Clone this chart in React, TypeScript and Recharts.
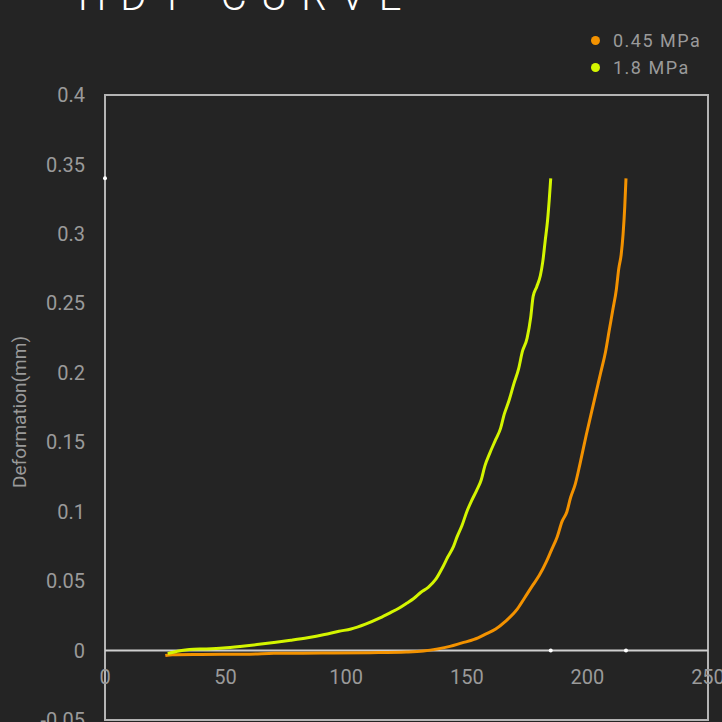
import React from "react";
import {
  LineChart,
  Line,
  XAxis,
  YAxis,
  ReferenceLine,
  ReferenceArea,
  ReferenceDot,
} from "recharts";

// 0.45 MPa curve: [temperature, deformation]
const lowLoadX = [25, 28, 40, 60, 70, 90, 110, 125, 132, 138, 143, 148, 153, 158, 162, 166, 171, 174, 177.5, 180, 183, 185, 187.5, 189.5, 191.5, 193, 195, 197, 199.5, 201.5, 203.5, 205.5, 207.5, 209, 210.5, 212, 213, 214, 214.8, 215.5, 216];
const lowLoadY = [-0.0036, -0.003, -0.0028, -0.0026, -0.002, -0.0018, -0.0015, -0.001, -0.0003, 0.0012, 0.003, 0.0055, 0.008, 0.012, 0.0155, 0.021, 0.03, 0.038, 0.0475, 0.054, 0.064, 0.072, 0.082, 0.093, 0.1, 0.11, 0.12, 0.135, 0.155, 0.17, 0.185, 0.2, 0.215, 0.23, 0.245, 0.26, 0.275, 0.285, 0.3, 0.32, 0.34];

// 1.8 MPa curve
const highLoadX = [26, 30, 35, 42, 49, 56, 63, 70, 77, 84, 91, 97, 102, 108, 114, 118, 122, 125, 128, 131, 134, 137, 140, 142, 144.5, 146, 148, 150, 152, 154, 156, 157.5, 159.5, 162, 164, 165.5, 167.5, 169.5, 171.5, 173, 175, 176.5, 177.5, 179, 180.5, 181.5, 182.5, 183.5, 184.2, 184.8];
const highLoadY = [-0.0022, -0.0005, 0.0007, 0.0012, 0.0019, 0.003, 0.0043, 0.0058, 0.0074, 0.0092, 0.0115, 0.0139, 0.0155, 0.019, 0.0235, 0.027, 0.0307, 0.034, 0.0375, 0.042, 0.0455, 0.051, 0.06, 0.067, 0.075, 0.082, 0.09, 0.1, 0.108, 0.115, 0.123, 0.133, 0.142, 0.152, 0.16, 0.17, 0.18, 0.192, 0.203, 0.215, 0.225, 0.24, 0.255, 0.262, 0.27, 0.28, 0.295, 0.31, 0.325, 0.34];

const xTicks = [0, 50, 100, 150, 200, 250];
const yTicks = [-0.05, 0, 0.05, 0.1, 0.15, 0.2, 0.25, 0.3, 0.35, 0.4];
const yTickLabels = ["-0.05", "0", "0.05", "0.1", "0.15", "0.2", "0.25", "0.3", "0.35", "0.4"];

const series = [
  { name: "0.45 MPa", color: "#f39200", xs: lowLoadX, ys: lowLoadY },
  { name: "1.8 MPa", color: "#d4f500", xs: highLoadX, ys: highLoadY },
];

const W = 722;
const H = 722;
const MARGIN = { top: 95, right: 14, bottom: -28, left: 0 };
const X_AXIS_H = 30;
const Y_MIN = -0.05;
const Y_MAX = 0.4;
const PLOT_H = H - MARGIN.top - MARGIN.bottom - X_AXIS_H;
const ZERO_Y = MARGIN.top + (PLOT_H * Y_MAX) / (Y_MAX - Y_MIN);

const FONT = "Roboto, 'Noto Sans', sans-serif";
const TEXT = "#9a9a9a";

const XTick = (props: any) => {
  const { x, payload } = props;
  return (
    <text x={x} y={ZERO_Y + 26} dy="0.355em" textAnchor="middle" fill={TEXT} fontSize={20} fontFamily={FONT}>
      {payload.value}
    </text>
  );
};

export default function App() {
  const lines = series.map((s) => ({
    ...s,
    data: s.xs.map((x, i) => ({ x, y: s.ys[i] })),
  }));

  return (
    <div style={{ position: "absolute", left: 0, top: 0, width: W, height: H, background: "#242424", overflow: "hidden" }}>
      <div
        style={{
          position: "absolute",
          left: 78,
          top: -23,
          fontFamily: FONT,
          fontWeight: 300,
          fontSize: 40,
          lineHeight: 1,
          letterSpacing: 14,
          color: "#ffffff",
          whiteSpace: "nowrap",
        }}
      >
        HDT CURVE
      </div>
      <div
        style={{
          position: "absolute",
          left: 19,
          top: 412,
          transform: "translate(-50%, -50%) rotate(-90deg)",
          fontFamily: FONT,
          fontSize: 19,
          color: TEXT,
          whiteSpace: "nowrap",
        }}
      >
        Deformation(mm)
      </div>
      <div style={{ position: "absolute", left: 591, top: 27, fontFamily: FONT, fontSize: 18, letterSpacing: 1.5, color: TEXT }}>
        {series.map((s) => (
          <div key={s.name} style={{ display: "flex", alignItems: "center", height: 27 }}>
            <span style={{ width: 9, height: 9, borderRadius: 5, background: s.color, marginRight: 13 }} />
            {s.name}
          </div>
        ))}
      </div>
      <LineChart width={W} height={H} margin={MARGIN} style={{ position: "absolute", left: 0, top: 0 }}>
        <XAxis
          type="number"
          dataKey="x"
          domain={[0, 250]}
          ticks={xTicks}
          interval={0}
          height={X_AXIS_H}
          axisLine={false}
          tickLine={false}
          tick={XTick}
          allowDataOverflow
        />
        <YAxis
          type="number"
          dataKey="y"
          domain={[Y_MIN, Y_MAX]}
          ticks={yTicks}
          interval={0}
          width={105}
          axisLine={false}
          tickLine={false}
          tickSize={0}
          tickMargin={20}
          tick={{ fill: TEXT, fontSize: 20, fontFamily: FONT }}
          tickFormatter={(v: number) => yTickLabels[yTicks.indexOf(v)] ?? String(v)}
          allowDataOverflow
        />
        <ReferenceArea x1={0} x2={250} y1={Y_MIN} y2={Y_MAX} fill="none" stroke="#b4b4b4" strokeWidth={2} ifOverflow="visible" />
        <ReferenceLine y={0} stroke="#cfcfcf" strokeWidth={2} />
        {lines.map((s) => (
          <Line
            key={s.name}
            name={s.name}
            data={s.data}
            dataKey="y"
            type="monotone"
            stroke={s.color}
            strokeWidth={3}
            dot={false}
            isAnimationActive={false}
          />
        ))}
        <ReferenceDot x={0} y={0.34} r={2} fill="#ffffff" stroke="none" ifOverflow="visible" />
        <ReferenceDot x={184.8} y={0} r={2} fill="#ffffff" stroke="none" />
        <ReferenceDot x={216} y={0} r={2} fill="#ffffff" stroke="none" />
      </LineChart>
    </div>
  );
}
